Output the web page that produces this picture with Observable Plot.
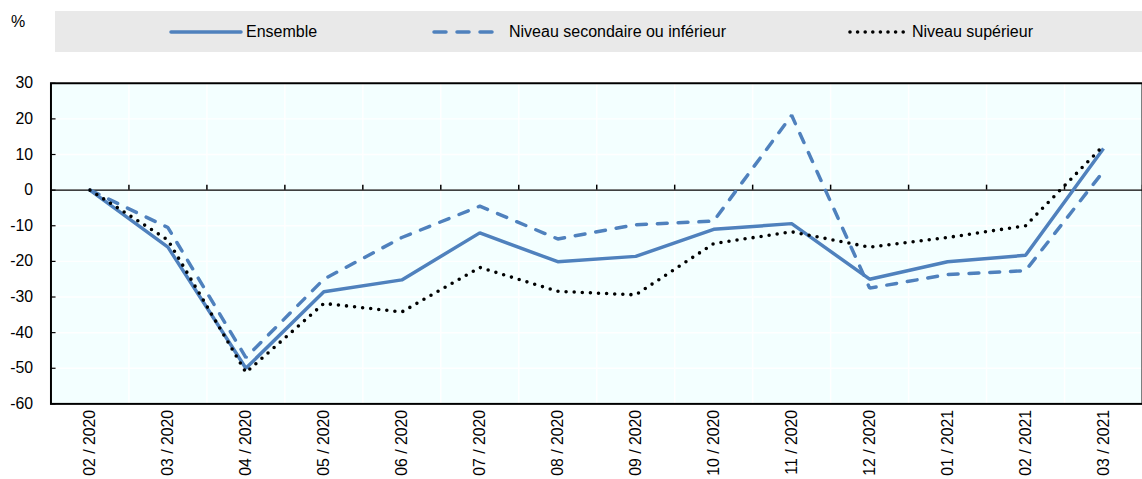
<!DOCTYPE html>
<html>
<head>
<meta charset="utf-8">
<script src="https://cdn.jsdelivr.net/npm/d3@7"></script>
<script src="https://cdn.jsdelivr.net/npm/@observablehq/plot@0.6"></script>
<style>
  html, body { margin: 0; padding: 0; background: #fff; overflow: hidden; width: 1142px; height: 479px; }
  body { position: relative; font-family: "Liberation Sans", Arial, sans-serif; }
  #pct { position: absolute; left: 11px; top: 12px; font-size: 16px; line-height: 20px; }
  #legend { position: absolute; left: 55px; top: 11px; width: 1100px; height: 41px; background: #e9e9e9; }
  .lg-text { position: absolute; top: 11px; font-size: 16px; line-height: 20px; color: #000; white-space: nowrap; }
  .lg-sw { position: absolute; top: 0; }
  #chart { position: absolute; left: 0; top: 60px; }
</style>
</head>
<body>
<div id="pct">%</div>
<div id="legend"></div>
<div id="chart"></div>
<script>
const months = ["02 / 2020", "03 / 2020", "04 / 2020", "05 / 2020", "06 / 2020", "07 / 2020", "08 / 2020",
                "09 / 2020", "10 / 2020", "11 / 2020", "12 / 2020", "01 / 2021", "02 / 2021", "03 / 2021"];
const ensemble   = [0, -16, -50, -28.5, -25.2, -12, -20.1, -18.6, -11, -9.4, -25, -20.1, -18.3, 11.7];
const secondaire = [0, -10.5, -47, -25, -13.3, -4.5, -13.7, -9.7, -8.7, 21, -27.5, -23.7, -22.6, 5.3];
const superieur  = [0, -14, -51.2, -31.8, -34.2, -21.7, -28.4, -29.4, -15, -11.7, -16, -13.3, -10, 12.5];
const seriesNames = ["Ensemble", "Niveau secondaire ou inférieur", "Niveau supérieur"];
const yTicks = [30, 20, 10, 0, -10, -20, -30, -40, -50, -60];

const blue = "#4f81bd";
const seriesStyles = [
  {stroke: blue, strokeWidth: 3.5, dash: null, cap: "butt"},
  {stroke: blue, strokeWidth: 3.5, dash: "10,11", cap: "round"},
  {stroke: "#000", strokeWidth: 3.6, dash: "0,8.2", cap: "round"}
];
const seriesValues = [ensemble, secondaire, superieur];

const idx = months.map((_, i) => i);
const boundaries = months.map((_, i) => i + 0.5);
const rows = seriesValues.map(vals => vals.map((v, i) => ({i, v})));

const font = "'Liberation Sans', Arial, sans-serif";

const chart = Plot.plot({
  width: 1154,
  height: 419,
  marginLeft: 51,
  marginRight: 0,
  marginTop: 23,
  marginBottom: 72,
  style: {fontFamily: font, fontSize: "16px", color: "#000", background: "transparent", overflow: "visible"},
  x: {type: "linear", domain: [-0.5, months.length - 0.5]},
  y: {domain: [-60, 30]},
  marks: [
    Plot.frame({fill: "#f3ffff", stroke: "none"}),
    Plot.ruleY(yTicks, {stroke: "#fff", strokeWidth: 1.5}),
    Plot.ruleX(boundaries, {stroke: "#fff", strokeWidth: 1.5}),
    Plot.ruleY([0], {stroke: "#000", strokeWidth: 1.5}),
    Plot.ruleX(boundaries, {y1: 0, y2: 1.4, stroke: "#000", strokeWidth: 1.5}),
    Plot.ruleY(yTicks, {x1: -0.5, x2: -0.435, stroke: "#000", strokeWidth: 1.2}),
    ...rows.map((r, k) => Plot.line(r, {
      x: "i", y: "v",
      stroke: seriesStyles[k].stroke,
      strokeWidth: seriesStyles[k].strokeWidth,
      strokeDasharray: seriesStyles[k].dash,
      strokeLinecap: seriesStyles[k].cap,
      strokeLinejoin: "miter"
    })),
    Plot.frame({stroke: "#000", strokeWidth: 2, fill: "none"}),
    Plot.axisY({ticks: yTicks, tickFormat: d => String(d), tickSize: 0, tickPadding: 18, label: null, fontSize: 16}),
    Plot.axisX({ticks: idx, tickFormat: i => months[i], tickSize: 0, tickPadding: 6, tickRotate: -90, label: null, fontSize: 16})
  ]
});
document.getElementById("chart").appendChild(chart);

// Legend
const legend = document.getElementById("legend");
const legendItems = [
  {sw: 116, w: 70, tx: 191},
  {sw: 377, w: 72, tx: 454},
  {sw: 793, w: 58, tx: 857}
];
const ns = "http://www.w3.org/2000/svg";
legendItems.forEach((it, k) => {
  const svg = document.createElementNS(ns, "svg");
  svg.setAttribute("width", it.w + 4);
  svg.setAttribute("height", 41);
  svg.setAttribute("class", "lg-sw");
  svg.style.left = (it.sw - 2) + "px";
  const ln = document.createElementNS(ns, "line");
  ln.setAttribute("x1", 2 + (seriesStyles[k].cap === "round" ? 2 : 0));
  ln.setAttribute("x2", 2 + it.w - (seriesStyles[k].cap === "round" ? 2 : 0));
  ln.setAttribute("y1", 21);
  ln.setAttribute("y2", 21);
  ln.setAttribute("stroke", seriesStyles[k].stroke);
  ln.setAttribute("stroke-width", seriesStyles[k].strokeWidth);
  ln.setAttribute("stroke-linecap", "round");
  if (k === 1) ln.setAttribute("stroke-dasharray", "12,11");
  if (k === 2) ln.setAttribute("stroke-dasharray", "0,7.6");
  svg.appendChild(ln);
  legend.appendChild(svg);
  const t = document.createElement("div");
  t.className = "lg-text";
  t.style.left = it.tx + "px";
  t.textContent = seriesNames[k];
  legend.appendChild(t);
});
</script>
</body>
</html>
